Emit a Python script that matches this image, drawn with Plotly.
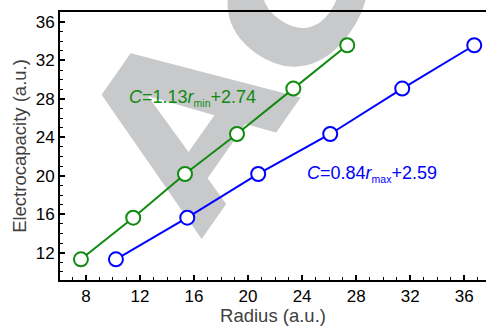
import math
import plotly.graph_objects as go

# Data
capacity = [11.31, 15.64, 20.19, 24.35, 29.07, 33.58]
r_min = [7.63, 11.50, 15.33, 19.18, 23.35, 27.34]
r_max = [10.22, 15.50, 20.75, 26.08, 31.41, 36.74]
SUB = "<sub><span style='font-size:10.5px'>{}</span></sub>"
label_min = "<i>C</i>=1.13<i>r</i>" + SUB.format("min") + "+2.74"
label_max = "<i>C</i>=0.84<i>r</i>" + SUB.format("max") + "+2.59"
x_ticks = [8, 12, 16, 20, 24, 28, 32, 36]
y_ticks = [12, 16, 20, 24, 28, 32, 36]
watermark = "Accepted Article"

GREEN = "#118a11"
BLUE = "#0000ff"
FONT = "Liberation Sans, Arial, sans-serif"
WM_FONT = "DejaVu Sans"

W, H = 486, 326
ML, MR, MT, MB = 60, 0, 12, 46
PW, PH = W - ML - MR, H - MT - MB


def px2paper(px, py):
    return (px - ML) / PW, (H - MB - py) / PH


fig = go.Figure()
for xs, col in [(r_min, GREEN), (r_max, BLUE)]:
    fig.add_trace(go.Scatter(
        x=xs, y=capacity, mode="lines+markers",
        line=dict(color=col, width=2),
        marker=dict(symbol="circle", size=14, color="white",
                    line=dict(color=col, width=2)),
        showlegend=False, hoverinfo="skip"))

# watermark (decoration) drawn below the traces, rotated along its baseline
WM_SIZE = 226
ang = math.radians(55)
d = (math.cos(ang), -math.sin(ang))
n = (-math.sin(ang), -math.cos(ang))
base = (201.0, 240.0)
off = WM_SIZE - 0.5 * 1.164 * WM_SIZE
sx, sy = base[0] + off * n[0], base[1] + off * n[1]
ex, ey = sx + 100 * d[0], sy + 100 * d[1]
x0, y0 = px2paper(sx, sy)
x1, y1 = px2paper(ex, ey)
fig.add_shape(type="line", xref="paper", yref="paper", x0=x0, y0=y0, x1=x1, y1=y1,
              layer="below", line=dict(color="rgba(0,0,0,0)", width=1),
              label=dict(text="<b>" + watermark + "</b>", textangle=-55,
                         textposition="start", xanchor="left", yanchor="middle",
                         padding=0,
                         font=dict(family=WM_FONT, size=WM_SIZE, color="#c8c9cb",
                                   weight="bold")))

fig.add_annotation(x=11.03, y=28.13, xref="x", yref="y", text=label_min,
                   showarrow=False, xanchor="left", yanchor="middle",
                   font=dict(family=FONT, size=18, color=GREEN))
fig.add_annotation(x=24.21, y=20.19, xref="x", yref="y", text=label_max,
                   showarrow=False, xanchor="left", yanchor="middle",
                   font=dict(family=FONT, size=18, color=BLUE))

axis_common = dict(
    showline=True, linecolor="black", linewidth=2,
    ticks="inside", ticklen=5, tickwidth=1.5, tickcolor="black",
    tickfont=dict(family=FONT, size=17, color="black"),
    showgrid=False, zeroline=False,
    minor=dict(ticks="inside", ticklen=3, tickwidth=1.2, tickcolor="black", dtick=1),
)

fig.update_xaxes(range=[6.08, 37.61], tickvals=x_ticks, mirror=True,
                 title=dict(text="Radius (a.u.)", standoff=3,
                            font=dict(family=FONT, size=18.5, color="#404040")),
                 **axis_common)
fig.update_yaxes(range=[9.16, 37.04], tickvals=y_ticks, mirror=False,
                 title=dict(text="Electrocapacity (a.u.)", standoff=4,
                            font=dict(family=FONT, size=18.5, color="#404040")),
                 **axis_common)

fig.update_layout(width=W, height=H, margin=dict(l=ML, r=MR, t=MT, b=MB, autoexpand=False),
                  paper_bgcolor="white", plot_bgcolor="white",
                  font=dict(family=FONT))

fig.write_html("out.html")
